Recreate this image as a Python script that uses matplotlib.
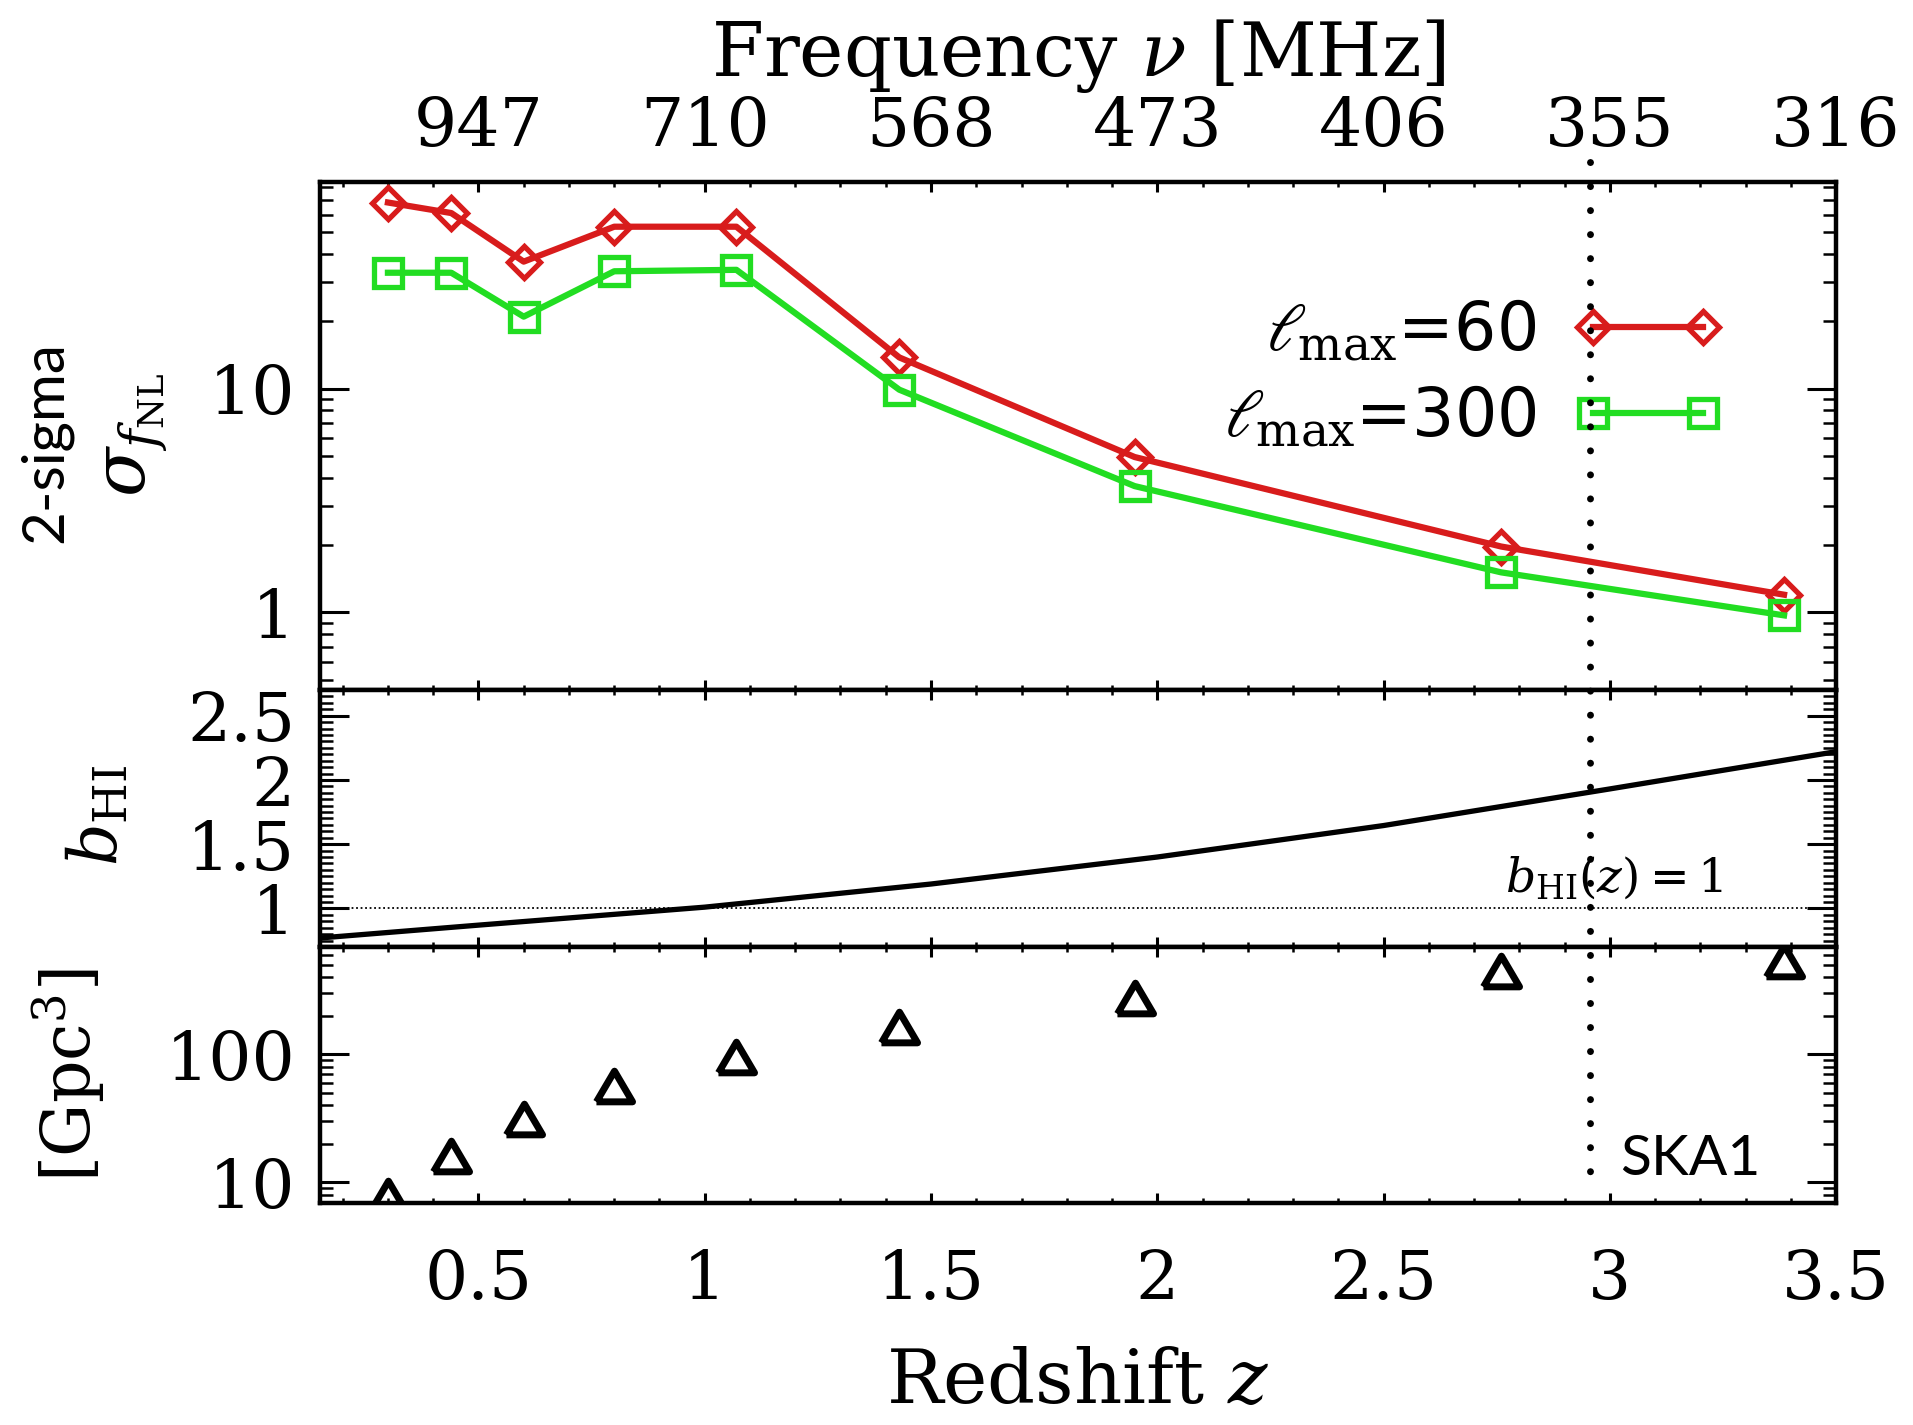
import numpy as np
import matplotlib
matplotlib.use('Agg')
import matplotlib.pyplot as plt
import matplotlib.transforms as mtransforms
from matplotlib.lines import Line2D
from matplotlib.ticker import FixedLocator, MultipleLocator, LogLocator, NullFormatter

plt.rcParams['font.family'] = 'DejaVu Serif'
plt.rcParams['mathtext.fontset'] = 'dejavuserif'

# redshift bins of the survey
z_bins = [0.30, 0.44, 0.60, 0.80, 1.07, 1.43, 1.95, 2.76, 3.385]
sigma_lmax60 = [68, 61, 37, 53, 53, 13.8, 4.95, 1.97, 1.2]
sigma_lmax300 = [33, 33, 21, 33.5, 34, 9.9, 3.67, 1.51, 0.97]
volume_gpc3 = [7.8, 16.2, 31, 56.5, 96, 165, 276, 450, 535]

# HI bias
z_curve = [0.15, 0.5, 1.0, 1.5, 2.0, 2.5, 3.0, 3.5]
b_hi = [0.77, 0.87, 1.01, 1.19, 1.40, 1.645, 1.93, 2.22]

z_ticks = [0.5, 1.0, 1.5, 2.0, 2.5, 3.0, 3.5]
z_labels = ['0.5', '1', '1.5', '2', '2.5', '3', '3.5']
freq_labels = ['947', '710', '568', '473', '406', '355', '316']
z_ska1 = 2.956

red = '#d81c1c'
green = '#22dd22'
fs = 49


def style_axis(ax):
    ax.tick_params(axis='both', which='both', direction='in',
                   left=True, right=True, top=True, bottom=True,
                   labelsize=fs)
    ax.tick_params(axis='y', which='major', length=21, width=2.2, pad=18)
    ax.tick_params(axis='y', which='minor', length=9.5, width=1.8)
    ax.tick_params(axis='x', which='major', length=7, width=2.2, pad=32)
    ax.tick_params(axis='x', which='minor', length=3.5, width=1.8)
    ax.xaxis.set_major_locator(FixedLocator(z_ticks))
    ax.xaxis.set_minor_locator(MultipleLocator(0.1))
    for sp in ax.spines.values():
        sp.set_linewidth(3.2)


fig = plt.figure(figsize=(19.13, 14.25), dpi=100)
gs = fig.add_gridspec(3, 1, height_ratios=[508, 257, 256], hspace=0,
                      left=0.1673, right=0.9598, top=0.8723, bottom=0.1558)
ax1 = fig.add_subplot(gs[0])
ax2 = fig.add_subplot(gs[1], sharex=ax1)
ax3 = fig.add_subplot(gs[2], sharex=ax1)

# top panel: sigma(fNL)
ax1.plot(z_bins, sigma_lmax60, color=red, lw=4.5, marker='D', ms=16, mew=3.8,
         mfc='none', mec=red, label=r'$\ell_{\!\rm max}$=60')
ax1.plot(z_bins, sigma_lmax300, color=green, lw=4.5, marker='s', ms=19.5, mew=3.8,
         mfc='none', mec=green, label=r'$\ell_{\!\rm max}$=300')
ax1.set_yscale('log')
ax1.set_ylim(0.45, 84)
ax1.set_xlim(0.15, 3.5)
style_axis(ax1)
ax1.yaxis.set_major_locator(FixedLocator([1, 10]))
ax1.set_yticklabels(['1', '10'])
ax1.yaxis.set_minor_locator(LogLocator(subs=np.arange(2, 10)))
ax1.yaxis.set_minor_formatter(NullFormatter())
ax1.tick_params(labelbottom=False)

secax = ax1.secondary_xaxis('top')
secax.set_xticks(z_ticks, labels=freq_labels)
secax.tick_params(axis='x', which='both', length=0, labelsize=fs, pad=16)
secax.spines['top'].set_visible(False)

ax1.legend(loc='center right', bbox_to_anchor=(0.9255, 0.622), frameon=False,
           markerfirst=False, numpoints=2, handlelength=2.25, handletextpad=0.55,
           labelspacing=0.3, borderpad=0, borderaxespad=0,
           prop={'family': 'DejaVu Sans', 'size': 48})

# middle panel: HI bias
ax2.plot(z_curve, b_hi, color='black', lw=3.8)
ax2.axhline(1.0, color='black', lw=1.3, ls=(0, (1, 1.5)))
ax2.set_ylim(0.7, 2.7)
style_axis(ax2)
ax2.yaxis.set_major_locator(FixedLocator([1, 1.5, 2, 2.5]))
ax2.set_yticklabels(['1', '1.5', '2', '2.5'])
ax2.yaxis.set_minor_locator(MultipleLocator(0.05))
ax2.tick_params(labelbottom=False)
ax2.text(3.25, 1.13, r'$b_{\rm HI}(z)=1$', fontsize=34, ha='right', va='baseline')

# bottom panel: survey volume
tri = [(-1, -0.85), (1, -0.85), (0, 0.85), (-1, -0.85)]
ax3.plot(z_bins, volume_gpc3, ls='none', marker=tri, ms=26, mew=5,
         mfc='none', mec='black', clip_on=True)
ax3.set_yscale('log')
ax3.set_ylim(6.9, 690)
style_axis(ax3)
ax3.yaxis.set_major_locator(FixedLocator([10, 100]))
ax3.set_yticklabels(['10', '100'])
ax3.yaxis.set_minor_locator(LogLocator(subs=np.arange(2, 10)))
ax3.yaxis.set_minor_formatter(NullFormatter())
ax3.set_xticklabels(z_labels)
ax3.text(3.023, 11.5, 'SKA1', family='Lato', fontsize=41, ha='left', va='baseline')

# SKA1 redshift limit across all panels
trans = mtransforms.blended_transform_factory(ax1.transData, fig.transFigure)
fig.add_artist(Line2D([z_ska1, z_ska1], [0.886, 0.163], transform=trans,
                      color='black', lw=5, ls=(0, (0.01, 3.45)),
                      dash_capstyle='round', zorder=10))

# axis labels
fig.text(0.5635, 0.9467, r'Frequency $\nu$ [MHz]', fontsize=54, ha='center', va='baseline')
fig.text(0.5635, 0.0154, r'Redshift $z$', fontsize=54, ha='center', va='baseline')
fig.text(0.024, 0.69, '2-sigma', family='Lato', fontsize=42, rotation=90,
         ha='center', va='center')
fig.text(0.0705, 0.695, r'$\sigma_{f_{\rm NL}}$', fontsize=52, rotation=90,
         ha='center', va='center')
fig.text(0.0512, 0.428, r'$b_{\rm HI}$', fontsize=48, rotation=90,
         ha='center', va='center')
fig.text(0.0355, 0.2456, r'$[{\rm Gpc}^3]$', fontsize=48, rotation=90,
         ha='center', va='center')

fig.savefig('out.png', dpi=100)
